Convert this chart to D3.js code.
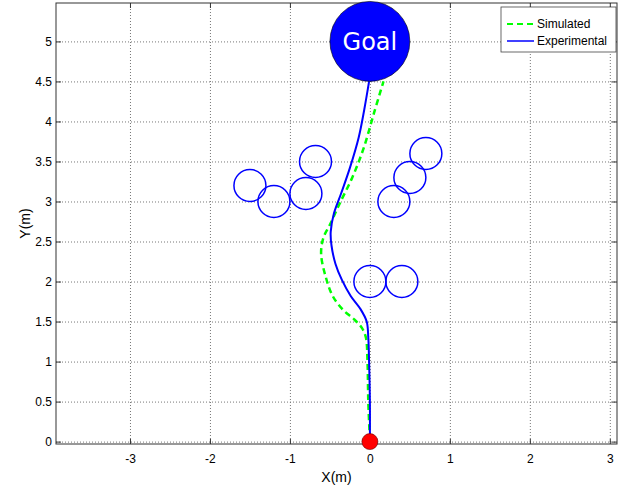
<!DOCTYPE html>
<html><head><meta charset="utf-8">
<script src="https://cdn.jsdelivr.net/npm/d3@7"></script>
<style>body{margin:0;background:#fff}svg{display:block}text{font-family:"Liberation Sans",Arial,sans-serif}</style>
</head><body>
<svg id="c" width="624" height="489"></svg>
<script>
const xTicks = [-3,-2,-1,0,1,2,3];
const yTicks = [0,0.5,1,1.5,2,2.5,3,3.5,4,4.5,5];
const obstacles = [[0,2],[0.4,2],[-1.5,3.2],[-1.2,3.0],[-0.8,3.1],[-0.68,3.5],[0.3,3.0],[0.5,3.3],[0.7,3.6]];
const obstacleRadius = 0.2;
const goal = [0,5];
const goalRadius = 0.5;
const start = [0,0];
const simulated = [[0,0.02],[-0.02,0.5],[-0.03,1.0],[-0.05,1.3],[-0.1,1.42],[-0.2,1.53],[-0.33,1.64],[-0.46,1.81],[-0.55,2.05],[-0.61,2.35],[-0.58,2.55],[-0.5,2.71],[-0.38,2.97],[-0.22,3.3],[-0.08,3.66],[0.05,4.1],[0.17,4.5]];
const experimental = [[0,0],[0,0.5],[-0.01,1.0],[-0.02,1.3],[-0.04,1.5],[-0.12,1.66],[-0.24,1.82],[-0.35,2.02],[-0.43,2.22],[-0.48,2.45],[-0.49,2.62],[-0.45,2.85],[-0.36,3.1],[-0.25,3.42],[-0.14,3.8],[-0.07,4.15],[-0.01,4.5]];
const seriesNames = ["Simulated","Experimental"];

const L=56,R=617,T=3,B=444;
const x=d3.scaleLinear().domain([-3.925,3.09]).range([L,R]);
const y=d3.scaleLinear().domain([-0.03,5.48]).range([B,T]);
const svg=d3.select("#c");
const fmt=d=>String(d);

// grid
const g=svg.append("g");
g.selectAll(".gx").data(xTicks).join("line").attr("x1",d=>x(d)+0.5).attr("x2",d=>x(d)+0.5).attr("y1",T).attr("y2",B)
 .attr("stroke","#777").attr("stroke-dasharray","1,2");
g.selectAll(".gy").data(yTicks).join("line").attr("y1",d=>y(d)+0.5).attr("y2",d=>y(d)+0.5).attr("x1",L).attr("x2",R)
 .attr("stroke","#777").attr("stroke-dasharray","1,2");

// axes
function styleAx(s){s.select(".domain").remove();s.selectAll("line").attr("stroke","#333");s.selectAll("text").attr("fill","#000").style("font-size","12px").style("font-family","Liberation Sans, Arial, sans-serif");}
svg.append("g").attr("transform",`translate(0,${B})`).call(d3.axisBottom(x).tickValues(xTicks).tickFormat(fmt).tickSize(-5).tickPadding(10)).call(styleAx);
svg.append("g").attr("transform",`translate(0,${T})`).call(d3.axisTop(x).tickValues(xTicks).tickFormat("").tickSize(-5)).call(styleAx);
svg.append("g").attr("transform",`translate(${L},0)`).call(d3.axisLeft(y).tickValues(yTicks).tickFormat(fmt).tickSize(-5).tickPadding(4)).call(styleAx);
svg.append("g").attr("transform",`translate(${R},0)`).call(d3.axisRight(y).tickValues(yTicks).tickFormat("").tickSize(-5)).call(styleAx);
svg.append("rect").attr("x",L).attr("y",T).attr("width",R-L).attr("height",B-T).attr("fill","none").attr("stroke","#333").attr("stroke-width",1);

// obstacles
const rpx = x(obstacleRadius)-x(0);
svg.append("g").selectAll("circle").data(obstacles).join("circle")
 .attr("cx",d=>x(d[0])).attr("cy",d=>y(d[1])).attr("r",rpx)
 .attr("fill","none").attr("stroke","#0000ff").attr("stroke-width",1.5);

const line=d3.line().x(d=>x(d[0])).y(d=>y(d[1])).curve(d3.curveCatmullRom);
svg.append("path").attr("d",line(simulated)).attr("fill","none").attr("stroke","#00ff00").attr("stroke-width",2.5).attr("stroke-dasharray","6,4");
svg.append("path").attr("d",line(experimental)).attr("fill","none").attr("stroke","#0000ff").attr("stroke-width",2);

// goal
svg.append("circle").attr("cx",x(goal[0])).attr("cy",y(goal[1])).attr("r",x(goalRadius)-x(0))
 .attr("fill","#0000ff").attr("stroke","#000").attr("stroke-width",0.6);
svg.append("text").attr("x",x(goal[0])).attr("y",y(goal[1])).attr("dy","0.36em").attr("text-anchor","middle")
 .attr("fill","#fff").style("font-family","DejaVu Sans").style("font-size","24px").text("Goal");

// start
svg.append("circle").attr("cx",x(start[0])).attr("cy",y(start[1])).attr("r",8)
 .attr("fill","#ff0000").attr("stroke","#600").attr("stroke-width",0.6);

svg.append("text").attr("x",(L+R)/2).attr("y",482).attr("text-anchor","middle").style("font-size","14px").text("X(m)");
svg.append("text").attr("transform",`translate(30,${(T+B)/2}) rotate(-90)`).attr("text-anchor","middle").style("font-size","14px").text("Y(m)");

// legend
const lg=svg.append("g");
lg.append("rect").attr("x",501).attr("y",7).attr("width",115).attr("height",45).attr("fill","#fff").attr("stroke","#444").attr("stroke-width",0.8);
const styles=[{c:"#00ff00",w:2,da:"6,4"},{c:"#0000ff",w:1.5,da:null}];
seriesNames.forEach((n,i)=>{
  const yy=24+i*17;
  lg.append("line").attr("x1",507).attr("x2",534).attr("y1",yy).attr("y2",yy).attr("stroke",styles[i].c).attr("stroke-width",styles[i].w).attr("stroke-dasharray",styles[i].da);
  lg.append("text").attr("x",537).attr("y",yy).attr("dy","0.35em").style("font-size","12px").text(n);
});
</script>
</body></html>
